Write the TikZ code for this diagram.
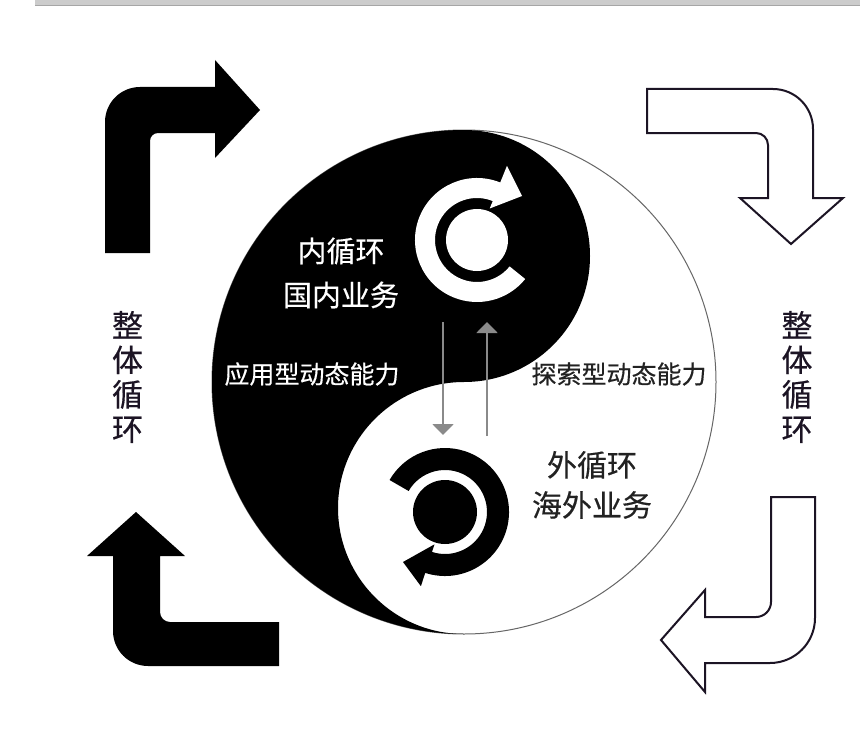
\documentclass[tikz,border=0pt]{standalone}
\usepackage{fontspec}
\newfontfamily\cjk[FakeBold=0.4]{Noto Sans CJK SC}
\usetikzlibrary{arrows.meta,calc}
\definecolor{outl}{HTML}{1C1424}
\definecolor{arrgray}{HTML}{8A8A8A}
\definecolor{darktxt}{HTML}{222222}
\tikzset{
  lbl/.style={inner sep=0pt, font=\cjk},
  whitelbl/.style={lbl, text=white},
  darklbl/.style={lbl, text=darktxt},
  vlbl/.style={lbl, text=outl, align=center, font=\cjk\fontsize{31}{34.5}\selectfont},
  bentblack/.style={fill=black},
  bentoutline/.style={draw=outl, line width=2pt, fill=white, line join=miter},
  grayarrow/.style={draw=arrgray, line width=2pt, -{Triangle[width=21pt,length=11pt]}, arrgray}
}
\begin{document}
\begin{tikzpicture}[x=1pt,y=-1pt]
\useasboundingbox (0,0) rectangle (868,752);
\fill[white] (0,0) rectangle (868,752);
% top gray bar
\fill[gray!40] (35,0) rectangle (860,6);
\draw[gray!70, line width=1pt] (35,6) -- (860,6);

% yin-yang
\coordinate (C) at (464,382);
\draw[gray!80!black, line width=1pt] (C) circle[radius=252];
\fill[black] (464,130) arc[start angle=-90, end angle=-270, radius=252]
  arc[start angle=90, end angle=270, radius=126]
  arc[start angle=90, end angle=-90, radius=126] -- cycle;

% top circular arrow (white)
\coordinate (T) at (477,240);
\fill[white] ($(T)+(-68:62)$) arc[start angle=-68, end angle=-321, radius=62]
  -- ($(T)+(-321:42)$) arc[start angle=-321, end angle=-68, radius=42]
  -- ($(T)+(-68:34)$) -- ($(T)+(45,-44)$) -- ($(T)+(-68:80)$) -- cycle;
\node[circle, fill=white, minimum size=62pt, inner sep=0pt] (tdisk) at (T) {};

% bottom circular arrow (black)
\coordinate (B) at (445,512);
\fill[black] ($(B)+(108:64)$) arc[start angle=108, end angle=-150, radius=64]
  -- ($(B)+(-150:42)$) arc[start angle=-150, end angle=108, radius=42]
  -- ($(B)+(108:34)$) -- ($(B)+(-42,50)$) -- ($(B)+(108:78)$) -- cycle;
\node[circle, fill=black, minimum size=64pt, inner sep=0pt] (bdisk) at (B) {};

% gray arrows between
\coordinate (d1) at (443,322);
\coordinate (d2) at (443,435);
\coordinate (u1) at (487,436);
\coordinate (u2) at (487,322);
\draw[grayarrow] (d1) -- (d2);
\draw[grayarrow] (u1) -- (u2);

% texts
\node[whitelbl, font=\cjk\fontsize{29}{29}\selectfont] (n1) at (341,251) {内循环};
\node[whitelbl, font=\cjk\fontsize{29}{29}\selectfont] (n2) at (341,295) {国内业务};
\node[whitelbl, font=\cjk\fontsize{25}{25}\selectfont] (n3) at (312,374) {应用型动态能力};
\node[darklbl, font=\cjk\fontsize{25}{25}\selectfont] (n4) at (619,374) {探索型动态能力};
\node[darklbl, font=\cjk\fontsize{30}{30}\selectfont] (n5) at (592,465) {外循环};
\node[darklbl, font=\cjk\fontsize{30}{30}\selectfont] (n6) at (592,505) {海外业务};
\node[vlbl] (vl) at (127.5,377) {整\\体\\循\\环};
\node[vlbl] (vr) at (797,377) {整\\体\\循\\环};

% bent arrows
\fill[bentblack] (105,253) -- (105,122) arc[start angle=180, end angle=270, radius=35]
  -- (215,87) -- (215,60) -- (260,110) -- (215,158) -- (215,133) -- (158,133)
  arc[start angle=270, end angle=180, radius=8] -- (150,253) -- cycle;
\fill[bentblack] (136,512) -- (185,556) -- (160,556) -- (160,612)
  arc[start angle=180, end angle=90, radius=10] -- (279,622) -- (279,666) -- (148,666)
  arc[start angle=90, end angle=180, radius=35] -- (113,556) -- (87,556) -- cycle;
\draw[bentoutline] (647,89) -- (773,89) arc[start angle=270, end angle=360, radius=40]
  -- (813,198) -- (843,198) -- (791,244) -- (740,198) -- (768,198) -- (768,145)
  arc[start angle=0, end angle=-90, radius=12] -- (647,133) -- cycle;
\draw[bentoutline] (771,497) -- (815,497) -- (815,618) arc[start angle=0, end angle=90, radius=45]
  -- (705,663) -- (705,692) -- (661,640) -- (705,590) -- (705,617) -- (756,617)
  arc[start angle=90, end angle=0, radius=15] -- cycle;
\end{tikzpicture}
\end{document}
